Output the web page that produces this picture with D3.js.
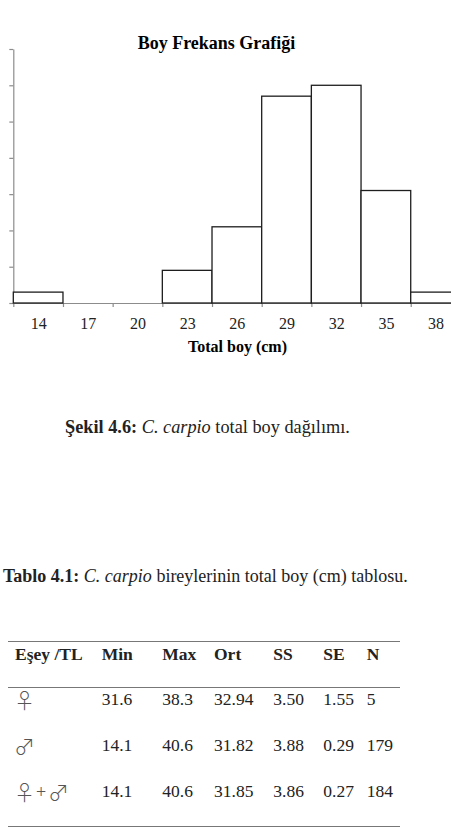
<!DOCTYPE html>
<meta charset="utf-8">

<script src="https://d3js.org/d3.v7.min.js"></script>

<style type="text/css">

body {
  margin: 0;
  background: white;
}

svg {
  display: block;
  font-family: "Liberation Serif", "Times New Roman", serif;
}

.axis path,
.axis line {
  stroke: #8c8c8c;
  stroke-width: 1.2px;
}

.xLabels path {
  display: none;
}

.xLabels text {
  font-family: "Liberation Serif", "Times New Roman", serif;
  font-size: 16px;
  fill: #222;
}

.bar {
  fill: white;
  stroke: #1e1e1e;
  stroke-width: 1.3;
}

.tableLine {
  stroke: #777;
  stroke-width: 1.2;
}

.cell {
  font-size: 17.5px;
  fill: #222;
}

.sym {
  font-family: "Noto Sans CJK JP", "DejaVu Sans", sans-serif;
  font-weight: 300;
  font-size: 21px;
  fill: #555;
}

</style>

<body>

</body>

<script>

  // histogram data (bin centres in cm, counts)
  const binCenters = [14, 17, 20, 23, 26, 29, 32, 35, 38];
  const counts = [3, 0, 0, 9, 21, 57, 60, 31, 3];
  const yTicks = [0, 10, 20, 30, 40, 50, 60, 70];
  const binWidth = 3;

  // table data
  const tableHeaders = ["Eşey /TL", "Min", "Max", "Ort", "SS", "SE", "N"];
  const rowLabels = [["♀"], ["♂"], ["♀", "+", "♂"]];
  const minValues = ["31.6", "14.1", "14.1"];
  const maxValues = ["38.3", "40.6", "40.6"];
  const ortValues = ["32.94", "31.82", "31.85"];
  const ssValues = ["3.50", "3.88", "3.86"];
  const seValues = ["1.55", "0.29", "0.27"];
  const nValues = ["5", "179", "184"];

  const outerWidth = 451;
  const outerHeight = 834;

  const SVG = d3.select("body").append("svg")
    .attr("width", outerWidth)
    .attr("height", outerHeight);

  const binEdges = binCenters.map(d => d - binWidth / 2)
    .concat([binCenters[binCenters.length - 1] + binWidth / 2]);

  const xScale = d3.scaleLinear()
    .domain([binEdges[0], binEdges[binEdges.length - 1]])
    .range([13.3, 460.4]);

  const yScale = d3.scaleLinear()
    .domain([0, 70])
    .range([303, 49]);

  // Title
  SVG.append("text")
    .attr("x", 216.5)
    .attr("y", 49)
    .attr("text-anchor", "middle")
    .style("font-size", "18px")
    .style("font-weight", "bold")
    .text("Boy Frekans Grafiği");

  // Y AXIS (ticks only, no labels)
  SVG.append("g")
    .attr("class", "axis")
    .attr("transform", "translate(" + xScale.range()[0] + ",0)")
    .call(d3.axisLeft(yScale)
      .tickValues(yTicks)
      .tickSize(4)
      .tickSizeOuter(0)
      .tickFormat(""));

  // X AXIS - tick marks at bin edges
  SVG.append("g")
    .attr("class", "axis")
    .attr("transform", "translate(0," + yScale(0) + ")")
    .call(d3.axisBottom(xScale)
      .tickValues(binEdges)
      .tickSize(4)
      .tickSizeOuter(0)
      .tickFormat(""));

  // X labels at bin centres
  SVG.append("g")
    .attr("class", "xLabels")
    .attr("transform", "translate(0," + yScale(0) + ")")
    .call(d3.axisBottom(xScale)
      .tickValues(binCenters)
      .tickSize(0)
      .tickPadding(14.6)
      .tickFormat(d3.format("d")))
    .attr("font-family", null)
    .attr("font-size", null);

  // bars
  const barData = binCenters.map((c, i) => ({center: c, count: counts[i]}))
    .filter(d => d.count > 0);

  SVG.selectAll(".bar")
    .data(barData).enter().append("rect")
    .attr("class", "bar")
    .attr("x", d => xScale(d.center - binWidth / 2))
    .attr("width", d => xScale(d.center + binWidth / 2) - xScale(d.center - binWidth / 2))
    .attr("y", d => yScale(d.count))
    .attr("height", d => yScale(0) - yScale(d.count));

  // X AXIS LABEL
  SVG.append("text")
    .attr("x", 237.5)
    .attr("y", 351.5)
    .attr("text-anchor", "middle")
    .style("font-size", "16px")
    .style("font-weight", "bold")
    .text("Total boy (cm)");

  // figure caption
  const cap = SVG.append("text")
    .attr("x", 65)
    .attr("y", 433)
    .style("font-size", "18.3px")
    .style("fill", "#222");
  cap.append("tspan").style("font-weight", "bold").text("Şekil 4.6: ");
  cap.append("tspan").style("font-style", "italic").text("C. carpio");
  cap.append("tspan").text(" total boy dağılımı.");

  // table caption
  const tcap = SVG.append("text")
    .attr("x", 3)
    .attr("y", 582)
    .style("font-size", "18px")
    .style("fill", "#222");
  tcap.append("tspan").style("font-weight", "bold").text("Tablo 4.1: ");
  tcap.append("tspan").style("font-style", "italic").text("C. carpio");
  tcap.append("tspan").text(" bireylerinin total boy (cm) tablosu.");

  // ---------------------------//
  //           TABLE            //
  // ---------------------------//

  const colX = [15, 101.7, 162.3, 214, 273.3, 323.3, 366.7];
  const headerY = 660;
  const rowY = [705, 750.7, 796.7];

  [641.5, 687.5, 826.5].forEach(function(y) {
    SVG.append("line")
      .attr("class", "tableLine")
      .attr("x1", 8)
      .attr("x2", 400)
      .attr("y1", y)
      .attr("y2", y);
  });

  SVG.selectAll(".header")
    .data(tableHeaders).enter().append("text")
    .attr("class", "cell header")
    .attr("x", (d, i) => colX[i])
    .attr("y", headerY)
    .style("font-weight", "bold")
    .text(d => d);

  const columns = [minValues, maxValues, ortValues, ssValues, seValues, nValues];

  // x offsets of the pieces in a sex label (♀, +, ♂)
  const symX = [-1, 21, 33];

  rowLabels.forEach(function(parts, r) {
    const t = SVG.append("g")
      .attr("class", "sym")
      .attr("transform", "translate(" + colX[0] + "," + (rowY[r] + 3) + ")");
    parts.forEach(function(p, k) {
      t.append("text")
        .attr("x", symX[k])
        .attr("y", p === "+" ? -2 : 0)
        .style("font-family", p === "+" ? "'Liberation Serif', serif" : null)
        .style("font-weight", p === "+" ? "normal" : null)
        .style("font-size", p === "+" ? "18px" : null)
        .text(p);
    });

    columns.forEach(function(col, c) {
      SVG.append("text")
        .attr("class", "cell")
        .attr("x", colX[c + 1])
        .attr("y", rowY[r])
        .text(col[r]);
    });
  });

</script>
